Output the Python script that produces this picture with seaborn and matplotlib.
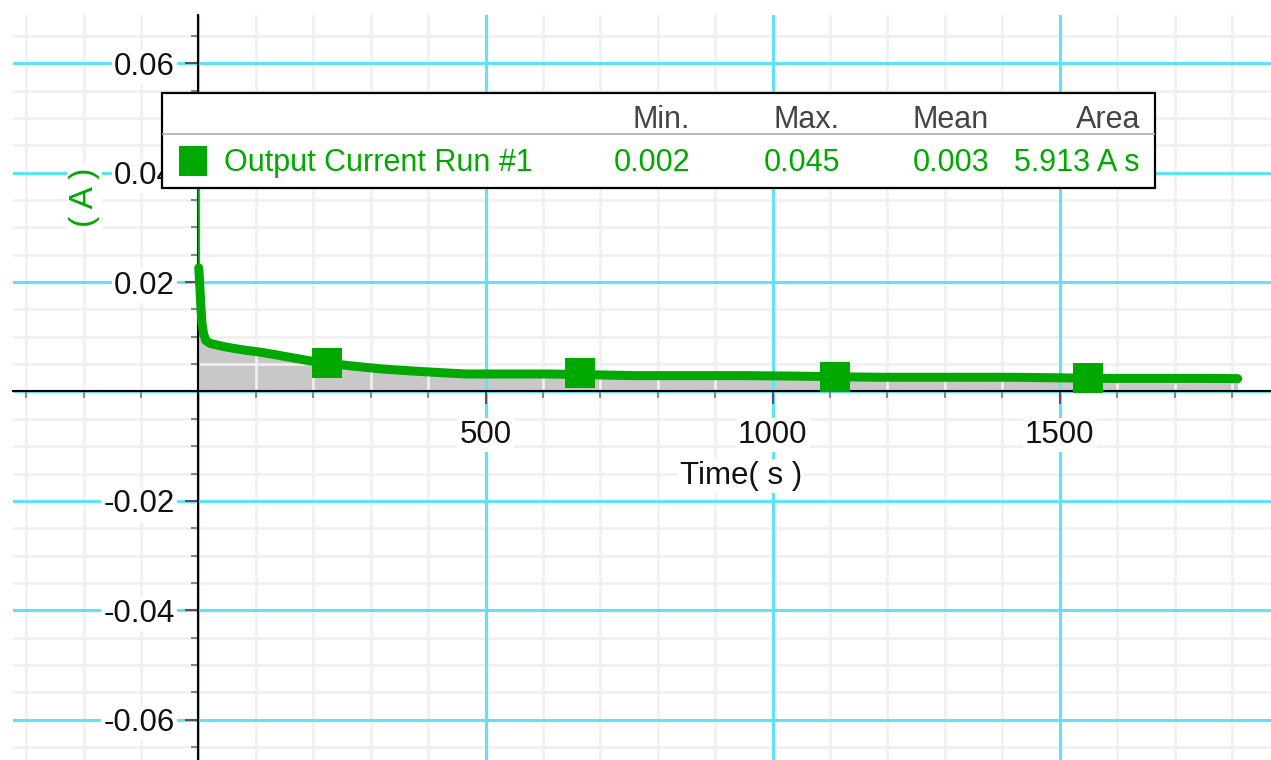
import matplotlib
matplotlib.use('Agg')
import matplotlib.pyplot as plt
import seaborn as sns
import pandas as pd
from matplotlib.patches import Rectangle
from matplotlib.lines import Line2D
from matplotlib.transforms import Affine2D
from matplotlib.ticker import FixedLocator, FixedFormatter, MultipleLocator

# ---------------- data ----------------
time_s = [0.5, 2, 4, 6, 9, 13, 20, 32, 45, 66, 85, 107, 130, 159, 194, 224,
          264, 321, 380, 430, 467, 554, 612, 665, 760, 850, 950, 1050, 1108,
          1187, 1300, 1419, 1500, 1549, 1650, 1750, 1810]
current_A = [0.0226, 0.0200, 0.0160, 0.0125, 0.0105, 0.0093, 0.0088, 0.0085,
             0.0082, 0.0078, 0.0075, 0.0072, 0.0068, 0.00625, 0.0056, 0.0052,
             0.0047, 0.0041, 0.0037, 0.0034, 0.0032, 0.0032, 0.0032, 0.0031,
             0.0029, 0.0029, 0.0029, 0.0028, 0.0027, 0.0026, 0.0026, 0.0026,
             0.0025, 0.0024, 0.0024, 0.0024, 0.00235]
spike_time = [0.0, 0.5]
spike_current = [0.045, 0.0226]
marker_time = [224, 665, 1108, 1549]
marker_current = [0.00515, 0.0033, 0.0027, 0.0024]

x_major = [0, 500, 1000, 1500]
x_major_labels = ['', '500', '1000', '1500']
y_major = [-0.06, -0.04, -0.02, 0.0, 0.02, 0.04, 0.06]
y_major_labels = ['-0.06', '-0.04', '-0.02', '', '0.02', '0.04', '0.06']

series_name = 'Output Current Run #1'
stat_headers = ['Min.', 'Max.', 'Mean', 'Area']
stat_values = ['0.002', '0.045', '0.003', '5.913 A s']
x_label = 'Time( s )'
y_label = '( A )'

# ---------------- style ----------------
GREEN = '#00a800'
CYAN = '#5ee4f6'
MINOR = '#f0f0f0'
FILL = '#c8c8c8'
W, H = 1271, 760
XLIM = (-323, 1868)
YLIM = (-0.06737, 0.06883)
TICK_FS = 22.5

sns.set_theme(style='white')
plt.rcParams['font.family'] = ['Liberation Sans', 'DejaVu Sans']

fig = plt.figure(figsize=(W / 100, H / 100), dpi=100)
rect = [13 / W, 0, (W - 13) / W, (H - 15) / H]


def setup_layer(a):
    a.set_xlim(*XLIM)
    a.set_ylim(*YLIM)
    a.xaxis.set_major_locator(FixedLocator(x_major))
    a.yaxis.set_major_locator(FixedLocator(y_major))
    a.xaxis.set_minor_locator(MultipleLocator(100))
    a.yaxis.set_minor_locator(MultipleLocator(0.005))


# layer 0: background, area fill and minor grid
ax0 = fig.add_axes(rect)
setup_layer(ax0)
ax0.set_facecolor('white')
ax0.set_axisbelow(True)
df = pd.DataFrame({'time': time_s, 'current': current_A})
ax0.fill_between(df['time'], 0, df['current'], color=FILL, lw=0, zorder=0.3)
ax0.grid(which='minor', color=MINOR, lw=1.9)
ax0.grid(which='major', visible=False)
ax0.tick_params(which='both', length=0, labelbottom=False, labelleft=False)
for s in ax0.spines.values():
    s.set_visible(False)

# layer 1: major cyan grid
ax1 = fig.add_axes(rect)
setup_layer(ax1)
ax1.set_facecolor('none')
ax1.grid(which='major', color=CYAN, lw=2.2)
ax1.grid(which='minor', visible=False)
ax1.tick_params(which='both', length=0, labelbottom=False, labelleft=False)
for s in ax1.spines.values():
    s.set_visible(False)

# layer 2: axes through the origin, data
ax = fig.add_axes(rect)
setup_layer(ax)
ax.set_facecolor('none')
ax.grid(False)

df_spike = pd.DataFrame({'time': spike_time, 'current': spike_current})
df_mark = pd.DataFrame({'time': marker_time, 'current': marker_current})
sns.lineplot(data=df_spike, x='time', y='current', ax=ax, color=GREEN,
             lw=1.6, estimator=None, sort=False, zorder=3)
sns.lineplot(data=df, x='time', y='current', ax=ax, color=GREEN, lw=6.5,
             estimator=None, sort=False, zorder=3, solid_capstyle='round',
             solid_joinstyle='round')
sns.scatterplot(data=df_mark, x='time', y='current', ax=ax, color=GREEN,
                marker='s', s=21 ** 2, linewidth=0, zorder=4)
setup_layer(ax)

for side in ['top', 'right']:
    ax.spines[side].set_visible(False)
ax.spines['left'].set_position(('data', 0))
ax.spines['bottom'].set_position(('data', 0))
for side in ['left', 'bottom']:
    ax.spines[side].set_color('black')
    ax.spines[side].set_linewidth(1.5)

ax.xaxis.set_major_formatter(FixedFormatter(x_major_labels))
ax.yaxis.set_major_formatter(FixedFormatter(y_major_labels))

ax.tick_params(which='major', direction='out', length=9.5, width=1.5,
               color='#555555', labelsize=TICK_FS, labelcolor='#111111')
ax.tick_params(axis='y', which='major', pad=7.5)
ax.tick_params(axis='x', which='major', pad=11)
ax.tick_params(which='minor', direction='out', length=5, width=1.5,
               color='#888888')
ax.tick_params(axis='x', which='both', bottom=True, top=False)
ax.tick_params(axis='y', which='both', left=True, right=False)

box = dict(facecolor='white', edgecolor='none', pad=1.5)
plt.setp(ax.get_yticklabels(), bbox=box)
plt.setp(ax.get_xticklabels(), bbox=box)

ax.set_xlabel(x_label, fontsize=TICK_FS, color='#111111', bbox=box,
              va='center', ha='center')
ax.xaxis.set_label_coords((741 - 13) / (W - 13), (H - 476) / (H - 15))
ax.set_ylabel(y_label, color=GREEN, fontsize=24, rotation=90,
              bbox=box, va='center', ha='center')
ax.yaxis.set_label_coords((84 - 13) / (W - 13), (H - 197) / (H - 15))

# ---------------- statistics legend box ----------------
pix = Affine2D().scale(1 / W, -1 / H).translate(0, 1) + fig.transFigure
fig.add_artist(Rectangle((162, 93), 1155 - 162, 188 - 93, transform=pix,
                         facecolor='white', edgecolor='black', lw=1.6,
                         zorder=5))
fig.add_artist(Line2D([163, 1154], [134, 134], transform=pix,
                      color='#bbbbbb', lw=1.5, zorder=6))
fig.add_artist(Rectangle((179, 146), 28, 30, transform=pix,
                         facecolor=GREEN, edgecolor='none', zorder=6))
fig.text(224, 171, series_name, transform=pix, ha='left', va='baseline',
         fontsize=22, color=GREEN, zorder=7)
col_right = [690, 840, 989, 1140]
for xr, head, val in zip(col_right, stat_headers, stat_values):
    fig.text(xr, 128, head, transform=pix, ha='right', va='baseline',
             fontsize=22, color='#444444', zorder=7)
    fig.text(xr, 171, val, transform=pix, ha='right', va='baseline',
             fontsize=22, color=GREEN, zorder=7)

fig.savefig('out.png', dpi=100, facecolor='white')
